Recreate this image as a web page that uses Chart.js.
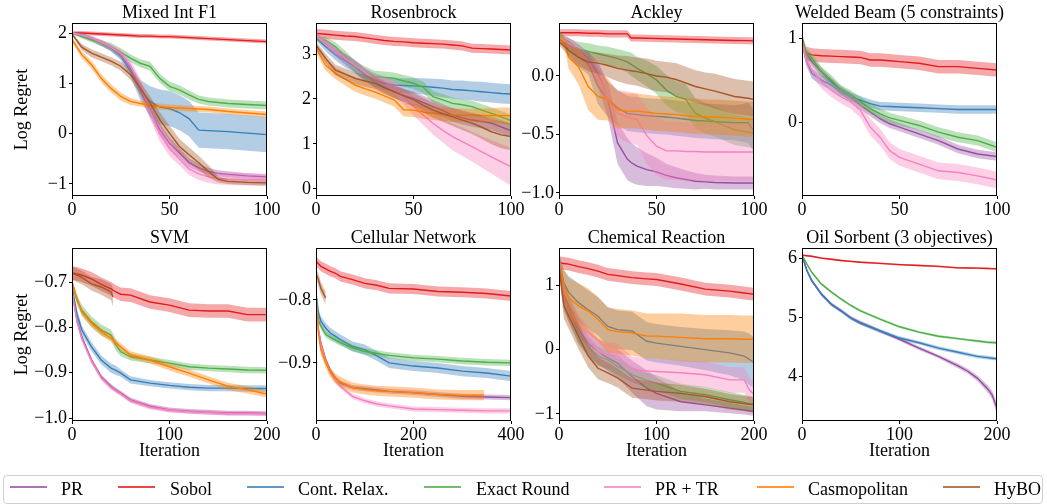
<!DOCTYPE html>
<html><head><meta charset="utf-8">
<script src="https://cdn.jsdelivr.net/npm/chart.js@4.4.0/dist/chart.umd.min.js"></script>
<style>
html,body{margin:0;padding:0;background:#fff;width:1047px;height:504px;overflow:hidden;position:relative;font-family:'Liberation Serif','Times New Roman',serif;}
#legend{position:absolute;left:3px;top:475px;width:1040px;height:29px;border:1px solid #d0d0d0;border-radius:4px;box-sizing:border-box;}
.li{position:absolute;top:486px;height:2px;width:37px;}
.lt{position:absolute;top:480px;font-size:18px;line-height:18px;color:#000;white-space:nowrap;}
</style></head><body>
<div id="legend"></div>
<script>
// ---------- series ----------
const seriesNames = ['PR','Sobol','Cont. Relax.','Exact Round','PR + TR','Casmopolitan','HyBO'];
const seriesColors = ['#984ea3','#e41a1c','#377eb8','#4daf4a','#f781bf','#ff7f00','#a65628'];

// ---------- tick labels ----------
const xTicks100 = [0,50,100];
const xTicks200 = [0,100,200];
const xTicks400 = [0,200,400];
const mixYTicks = [-1,0,1,2];
const rosYTicks = [0,1,2,3];
const ackYTicks = [-1,-0.5,0];
const welYTicks = [0,1];
const svmYTicks = [-1,-0.9,-0.8,-0.7];
const celYTicks = [-0.9,-0.8];
const cheYTicks = [-1,0,1];
const oilYTicks = [4,5,6];

// ---------- Mixed Int F1 ----------
const mixX = [0,5,10,15,20,25,30,35,40,45,50,55,60,65,70,75,80,90,100];
const mixPR = [2.0,1.95,1.88,1.8,1.7,1.57,1.3,0.87,0.44,0.08,-0.19,-0.38,-0.58,-0.68,-0.75,-0.79,-0.81,-0.84,-0.86];
const mixPRe = [0.02,0.03,0.04,0.05,0.06,0.07,0.09,0.12,0.12,0.12,0.12,0.1,0.09,0.08,0.07,0.06,0.06,0.05,0.05];
const mixSob = [2.0,2.0,1.99,1.98,1.97,1.96,1.95,1.94,1.94,1.93,1.93,1.92,1.91,1.9,1.89,1.88,1.87,1.85,1.83];
const mixSobe = [0.04,0.04,0.04,0.04,0.04,0.04,0.04,0.04,0.04,0.04,0.04,0.04,0.04,0.04,0.04,0.04,0.04,0.04,0.04];
const mixCR = [2.0,1.96,1.9,1.8,1.7,1.54,1.25,0.87,0.64,0.53,0.5,0.42,0.3,0.07,0.06,0.05,0.04,0.01,-0.02];
const mixCRe = [0.02,0.03,0.04,0.05,0.06,0.08,0.12,0.2,0.3,0.35,0.35,0.35,0.35,0.35,0.35,0.35,0.35,0.35,0.35];
const mixER = [2.0,1.93,1.86,1.8,1.73,1.62,1.5,1.4,1.34,1.1,0.94,0.87,0.77,0.68,0.64,0.62,0.6,0.58,0.56];
const mixERe = [0.03,0.04,0.05,0.06,0.07,0.08,0.08,0.08,0.09,0.09,0.09,0.09,0.09,0.08,0.08,0.08,0.08,0.08,0.08];
const mixTR = [2.0,1.96,1.9,1.82,1.72,1.6,1.35,0.95,0.45,0.0,-0.3,-0.5,-0.7,-0.8,-0.86,-0.89,-0.9,-0.91,-0.92];
const mixTRe = [0.02,0.03,0.04,0.05,0.06,0.08,0.1,0.15,0.15,0.15,0.15,0.13,0.12,0.12,0.12,0.12,0.12,0.12,0.12];
const mixCas = [1.87,1.57,1.37,1.1,0.9,0.74,0.64,0.6,0.56,0.54,0.52,0.51,0.5,0.49,0.48,0.46,0.44,0.41,0.38];
const mixCase = [0.05,0.07,0.08,0.08,0.08,0.08,0.07,0.06,0.06,0.06,0.06,0.06,0.06,0.06,0.06,0.06,0.06,0.06,0.06];
const mixHy = [1.98,1.72,1.6,1.52,1.44,1.34,1.17,0.91,0.61,0.28,0.01,-0.25,-0.42,-0.58,-0.75,-0.91,-0.95,-0.97,-0.98];
const mixHye = [0.03,0.06,0.08,0.08,0.08,0.09,0.1,0.12,0.14,0.15,0.15,0.15,0.15,0.14,0.12,0.06,0.05,0.05,0.05];

// ---------- Rosenbrock ----------
const rosX = [0,5,10,15,20,25,30,35,40,45,50,55,60,65,70,75,80,85,90,95,100];
const rosPR = [3.4,3.25,3.05,2.88,2.72,2.55,2.38,2.27,2.16,2.08,2.01,1.92,1.83,1.74,1.64,1.58,1.53,1.5,1.46,1.38,1.29];
const rosPRe = [0.05,0.08,0.1,0.12,0.13,0.13,0.13,0.13,0.14,0.14,0.15,0.15,0.15,0.15,0.15,0.15,0.15,0.15,0.15,0.15,0.15];
const rosSob = [3.46,3.44,3.42,3.4,3.39,3.36,3.33,3.3,3.28,3.27,3.25,3.24,3.23,3.22,3.2,3.18,3.13,3.12,3.11,3.1,3.09];
const rosSobe = [0.1,0.1,0.1,0.1,0.1,0.1,0.1,0.1,0.1,0.1,0.1,0.1,0.1,0.1,0.1,0.1,0.1,0.1,0.1,0.1,0.1];
const rosCR = [3.35,3.16,2.98,2.85,2.72,2.53,2.42,2.35,2.31,2.3,2.29,2.28,2.26,2.24,2.21,2.2,2.18,2.16,2.14,2.12,2.11];
const rosCRe = [0.05,0.1,0.12,0.15,0.15,0.15,0.15,0.15,0.15,0.16,0.17,0.18,0.19,0.2,0.2,0.21,0.21,0.22,0.22,0.22,0.22];
const rosER = [3.35,3.3,3.16,2.95,2.72,2.6,2.5,2.48,2.46,2.4,2.35,2.26,2.05,1.98,1.9,1.87,1.83,1.75,1.68,1.6,1.52];
const rosERe = [0.05,0.08,0.1,0.12,0.13,0.13,0.13,0.13,0.13,0.13,0.13,0.13,0.13,0.13,0.13,0.13,0.13,0.13,0.13,0.13,0.13];
const rosTR = [3.4,3.25,3.05,2.9,2.75,2.6,2.45,2.38,2.27,2.05,1.83,1.64,1.46,1.3,1.16,1.05,0.94,0.82,0.71,0.6,0.49];
const rosTRe = [0.05,0.08,0.1,0.1,0.1,0.1,0.1,0.12,0.14,0.18,0.2,0.22,0.25,0.27,0.3,0.32,0.33,0.35,0.37,0.4,0.42];
const rosCas = [3.13,2.75,2.57,2.44,2.31,2.23,2.16,2.07,1.98,1.76,1.75,1.71,1.68,1.66,1.64,1.64,1.64,1.63,1.63,1.63,1.63];
const rosCase = [0.1,0.12,0.13,0.14,0.15,0.15,0.15,0.15,0.15,0.15,0.15,0.15,0.15,0.15,0.15,0.15,0.15,0.16,0.17,0.18,0.18];
const rosHy = [3.2,2.9,2.64,2.55,2.46,2.4,2.35,2.25,2.16,2.07,1.98,1.86,1.75,1.67,1.6,1.53,1.46,1.37,1.27,1.2,1.16];
const rosHye = [0.08,0.1,0.12,0.13,0.13,0.13,0.13,0.14,0.14,0.15,0.15,0.16,0.17,0.18,0.2,0.22,0.24,0.26,0.28,0.3,0.3];

// ---------- Ackley ----------
const ackX = [0,3,5,10,15,20,25,30,35,37,40,45,50,55,60,65,70,75,80,90,97,100];
const ackPR = [0.35,0.31,0.29,0.22,0.15,0.02,-0.2,-0.57,-0.71,-0.74,-0.77,-0.8,-0.82,-0.85,-0.87,-0.885,-0.9,-0.905,-0.91,-0.915,-0.915,-0.915];
const ackPRe = [0.02,0.03,0.04,0.05,0.06,0.1,0.15,0.18,0.18,0.17,0.16,0.14,0.12,0.1,0.09,0.08,0.07,0.06,0.06,0.055,0.055,0.055];
const ackSob = [0.37,0.37,0.37,0.37,0.365,0.365,0.36,0.36,0.36,0.325,0.325,0.322,0.32,0.318,0.316,0.314,0.312,0.31,0.308,0.304,0.302,0.3];
const ackSobe = [0.03,0.03,0.03,0.03,0.03,0.03,0.03,0.03,0.03,0.03,0.03,0.03,0.03,0.03,0.03,0.03,0.03,0.03,0.03,0.03,0.03,0.03];
const ackCR = [0.33,0.27,0.22,0.16,0.11,-0.09,-0.2,-0.27,-0.32,-0.325,-0.33,-0.34,-0.345,-0.35,-0.36,-0.37,-0.38,-0.385,-0.39,-0.4,-0.4,-0.47];
const ackCRe = [0.03,0.04,0.05,0.08,0.1,0.15,0.15,0.15,0.15,0.15,0.15,0.15,0.15,0.15,0.15,0.15,0.15,0.15,0.15,0.15,0.17,0.18];
const ackER = [0.36,0.3,0.27,0.23,0.21,0.19,0.17,0.15,0.12,0.1,0.065,0.02,-0.034,-0.12,-0.175,-0.2,-0.32,-0.36,-0.39,-0.46,-0.48,-0.49];
const ackERe = [0.03,0.04,0.05,0.06,0.07,0.07,0.08,0.08,0.09,0.1,0.1,0.11,0.12,0.13,0.13,0.13,0.13,0.13,0.13,0.13,0.13,0.13];
const ackTR = [0.33,0.3,0.28,0.22,0.12,-0.005,-0.2,-0.32,-0.35,-0.36,-0.37,-0.51,-0.6,-0.64,-0.64,-0.645,-0.645,-0.65,-0.65,-0.65,-0.65,-0.65];
const ackTRe = [0.02,0.03,0.04,0.05,0.07,0.1,0.15,0.2,0.22,0.22,0.22,0.24,0.25,0.25,0.25,0.25,0.25,0.25,0.25,0.25,0.25,0.25];
const ackCas = [0.32,0.28,0.16,0.08,-0.09,-0.175,-0.2,-0.29,-0.3,-0.3,-0.3,-0.31,-0.32,-0.325,-0.33,-0.34,-0.345,-0.35,-0.35,-0.36,-0.37,-0.37];
const ackCase = [0.03,0.05,0.1,0.15,0.2,0.2,0.18,0.16,0.15,0.15,0.15,0.15,0.15,0.15,0.15,0.15,0.15,0.15,0.15,0.15,0.15,0.15];
const ackHy = [0.29,0.25,0.22,0.16,0.12,0.11,0.09,0.065,0.05,0.045,0.037,0.02,0.0,-0.01,-0.03,-0.06,-0.09,-0.11,-0.13,-0.175,-0.19,-0.2];
const ackHye = [0.03,0.04,0.05,0.07,0.08,0.09,0.1,0.11,0.12,0.12,0.12,0.13,0.13,0.13,0.14,0.14,0.14,0.14,0.15,0.15,0.15,0.15];

// ---------- Welded Beam ----------
const welX = [0,2,5,10,15,20,25,30,35,40,45,50,60,70,80,90,100];
const welPR = [0.98,0.82,0.72,0.6,0.48,0.38,0.3,0.2,0.12,0.04,-0.02,-0.06,-0.14,-0.22,-0.32,-0.38,-0.41];
const welPRe = [0.05,0.05,0.05,0.05,0.05,0.05,0.05,0.05,0.05,0.05,0.05,0.05,0.05,0.05,0.05,0.05,0.05];
const welSob = [1.0,0.82,0.8,0.79,0.785,0.78,0.775,0.77,0.74,0.74,0.73,0.72,0.7,0.66,0.66,0.64,0.62];
const welSobe = [0.06,0.08,0.08,0.08,0.08,0.08,0.08,0.08,0.08,0.08,0.08,0.08,0.08,0.08,0.08,0.08,0.08];
const welCR = [0.95,0.75,0.58,0.5,0.44,0.36,0.3,0.26,0.22,0.19,0.185,0.18,0.17,0.16,0.15,0.15,0.15];
const welCRe = [0.05,0.06,0.06,0.06,0.06,0.05,0.05,0.05,0.05,0.05,0.05,0.05,0.05,0.05,0.05,0.05,0.05];
const welER = [1.0,0.82,0.76,0.6,0.5,0.38,0.32,0.24,0.16,0.1,0.05,0.02,-0.04,-0.12,-0.18,-0.22,-0.3];
const welERe = [0.05,0.06,0.06,0.06,0.06,0.06,0.06,0.06,0.06,0.06,0.06,0.06,0.06,0.06,0.06,0.06,0.06];
const welTR = [0.95,0.75,0.62,0.48,0.38,0.3,0.24,0.14,-0.06,-0.18,-0.34,-0.42,-0.5,-0.58,-0.6,-0.64,-0.69];
const welTRe = [0.06,0.08,0.08,0.08,0.08,0.08,0.08,0.09,0.1,0.1,0.1,0.1,0.1,0.1,0.1,0.1,0.1];

// ---------- SVM ----------
const svmX = [0,5,10,20,30,40,45,50,60,80,100,120,140,160,180,200];
const svmPR = [-0.72,-0.784,-0.821,-0.872,-0.909,-0.93,-0.938,-0.945,-0.96,-0.974,-0.982,-0.985,-0.987,-0.989,-0.989,-0.99];
const svmPRe = [0.005,0.005,0.005,0.005,0.005,0.005,0.005,0.005,0.005,0.005,0.005,0.005,0.005,0.005,0.005,0.005];
const svmSob = [-0.68,-0.682,-0.685,-0.693,-0.705,-0.715,-0.722,-0.727,-0.729,-0.744,-0.751,-0.762,-0.764,-0.764,-0.772,-0.772];
const svmSobe = [0.015,0.015,0.015,0.015,0.015,0.015,0.015,0.015,0.015,0.015,0.015,0.015,0.015,0.015,0.015,0.015];
const svmCR = [-0.71,-0.77,-0.806,-0.843,-0.872,-0.89,-0.895,-0.901,-0.916,-0.923,-0.928,-0.932,-0.934,-0.934,-0.935,-0.935];
const svmCRe = [0.005,0.01,0.01,0.01,0.01,0.01,0.01,0.008,0.008,0.007,0.007,0.007,0.007,0.007,0.007,0.007];
const svmER = [-0.7,-0.74,-0.762,-0.788,-0.806,-0.817,-0.839,-0.854,-0.865,-0.872,-0.879,-0.887,-0.89,-0.892,-0.894,-0.895];
const svmERe = [0.005,0.01,0.012,0.012,0.012,0.012,0.012,0.01,0.008,0.007,0.007,0.007,0.007,0.007,0.007,0.007];
const svmTR = [-0.72,-0.787,-0.825,-0.875,-0.912,-0.933,-0.94,-0.947,-0.962,-0.976,-0.983,-0.986,-0.988,-0.99,-0.99,-0.991];
const svmTRe = [0.005,0.005,0.005,0.005,0.005,0.005,0.005,0.005,0.005,0.005,0.005,0.005,0.005,0.005,0.005,0.005];
const svmCas = [-0.7,-0.735,-0.766,-0.791,-0.81,-0.824,-0.834,-0.843,-0.861,-0.872,-0.887,-0.901,-0.916,-0.93,-0.938,-0.947];
const svmCase = [0.005,0.008,0.008,0.008,0.008,0.008,0.008,0.008,0.008,0.008,0.008,0.008,0.008,0.008,0.008,0.008];
const svmHyX = [0,10,20,30,40,42];
const svmHy = [-0.68,-0.69,-0.704,-0.711,-0.722,-0.733];
const svmHye = [0.015,0.015,0.015,0.017,0.018,0.02];

// ---------- Cellular Network ----------
const celX = [0,5,10,20,30,40,50,75,100,125,150,200,250,300,350,400];
const celPR = [-0.8,-0.847,-0.868,-0.895,-0.913,-0.924,-0.932,-0.939,-0.941,-0.943,-0.945,-0.947,-0.95,-0.953,-0.954,-0.955];
const celPRe = [0.004,0.004,0.004,0.004,0.004,0.004,0.004,0.004,0.004,0.004,0.004,0.004,0.004,0.004,0.004,0.004];
const celSob = [-0.739,-0.743,-0.747,-0.751,-0.755,-0.758,-0.763,-0.768,-0.774,-0.777,-0.782,-0.783,-0.787,-0.788,-0.79,-0.794];
const celSobe = [0.008,0.008,0.008,0.008,0.008,0.008,0.008,0.008,0.008,0.008,0.008,0.008,0.008,0.008,0.008,0.008];
const celCR = [-0.79,-0.821,-0.834,-0.845,-0.853,-0.858,-0.863,-0.874,-0.879,-0.889,-0.9,-0.905,-0.908,-0.913,-0.916,-0.921];
const celCRe = [0.008,0.008,0.008,0.008,0.008,0.008,0.008,0.008,0.008,0.008,0.008,0.008,0.008,0.008,0.008,0.008];
const celER = [-0.79,-0.832,-0.842,-0.855,-0.86,-0.864,-0.868,-0.876,-0.882,-0.885,-0.888,-0.892,-0.894,-0.897,-0.899,-0.9];
const celERe = [0.005,0.005,0.005,0.005,0.005,0.005,0.005,0.005,0.005,0.005,0.005,0.005,0.005,0.005,0.005,0.005];
const celTR = [-0.8,-0.847,-0.871,-0.897,-0.916,-0.928,-0.937,-0.953,-0.96,-0.965,-0.968,-0.973,-0.974,-0.975,-0.976,-0.976];
const celTRe = [0.004,0.004,0.004,0.004,0.004,0.004,0.004,0.004,0.004,0.004,0.004,0.004,0.004,0.004,0.004,0.004];
const celCasX = [0,5,10,20,30,40,50,75,100,125,150,200,250,300,345];
const celCas = [-0.8,-0.853,-0.879,-0.9,-0.916,-0.925,-0.93,-0.939,-0.942,-0.944,-0.945,-0.947,-0.95,-0.951,-0.951];
const celCase = [0.005,0.008,0.008,0.008,0.008,0.008,0.008,0.008,0.008,0.008,0.008,0.008,0.008,0.008,0.008];
const celHyX = [0,5,10,20];
const celHy = [-0.759,-0.768,-0.782,-0.797];
const celHye = [0.008,0.01,0.01,0.01];

// ---------- Chemical Reaction ----------
const cheX = [0,5,10,20,30,40,50,60,75,90,100,125,150,175,190,195,200];
const chePR = [1.35,0.85,0.65,0.31,0.1,-0.03,-0.13,-0.21,-0.42,-0.6,-0.68,-0.81,-0.86,-0.91,-0.94,-0.95,-0.96];
const chePRe = [0.1,0.2,0.2,0.2,0.2,0.2,0.2,0.22,0.25,0.28,0.25,0.15,0.1,0.08,0.07,0.07,0.07];
const cheSob = [1.35,1.34,1.33,1.29,1.26,1.22,1.17,1.15,1.12,1.1,1.09,1.02,0.94,0.91,0.88,0.87,0.86];
const cheSobe = [0.1,0.1,0.1,0.1,0.1,0.1,0.1,0.1,0.1,0.1,0.1,0.1,0.1,0.1,0.1,0.1,0.1];
const cheCR = [1.4,1.04,0.89,0.73,0.62,0.52,0.36,0.31,0.29,0.13,0.1,0.05,0.0,-0.05,-0.1,-0.15,-0.2];
const cheCRe = [0.1,0.2,0.25,0.3,0.3,0.3,0.3,0.3,0.3,0.3,0.3,0.3,0.32,0.35,0.38,0.4,0.4];
const cheER = [1.3,0.8,0.62,0.26,0.05,-0.1,-0.16,-0.26,-0.39,-0.48,-0.52,-0.65,-0.7,-0.78,-0.82,-0.84,-0.85];
const cheERe = [0.1,0.2,0.2,0.18,0.16,0.15,0.14,0.13,0.12,0.12,0.12,0.12,0.12,0.12,0.12,0.12,0.12];
const cheTR = [1.4,0.83,0.62,0.36,0.16,-0.03,-0.08,-0.1,-0.31,-0.33,-0.34,-0.36,-0.39,-0.47,-0.47,-0.62,-0.7];
const cheTRe = [0.1,0.2,0.2,0.2,0.2,0.2,0.2,0.2,0.2,0.2,0.2,0.2,0.2,0.2,0.2,0.2,0.2];
const cheCas = [1.35,0.99,0.81,0.68,0.6,0.47,0.31,0.28,0.26,0.21,0.21,0.19,0.17,0.17,0.16,0.16,0.16];
const cheCase = [0.1,0.25,0.3,0.35,0.35,0.35,0.35,0.35,0.35,0.35,0.35,0.37,0.37,0.37,0.37,0.37,0.37];
const cheHy = [1.3,0.68,0.52,0.21,-0.1,-0.29,-0.36,-0.44,-0.6,-0.63,-0.65,-0.68,-0.73,-0.81,-0.84,-0.85,-0.86];
const cheHye = [0.1,0.2,0.2,0.2,0.18,0.17,0.16,0.15,0.15,0.14,0.14,0.13,0.12,0.12,0.12,0.12,0.12];

// ---------- Oil Sorbent ----------
const oilX = [0,5,10,20,30,40,50,60,80,100,120,140,160,170,180,190,195,200];
const oilPR = [6.05,5.79,5.62,5.39,5.22,5.11,4.99,4.91,4.77,4.63,4.48,4.34,4.18,4.09,3.97,3.8,3.69,3.46];
const oilPRe = [0.02,0.03,0.03,0.03,0.03,0.03,0.03,0.03,0.03,0.03,0.03,0.03,0.04,0.04,0.05,0.06,0.07,0.1];
const oilSob = [6.05,6.04,6.03,6.0,5.98,5.96,5.945,5.93,5.91,5.89,5.875,5.86,5.835,5.833,5.83,5.825,5.822,5.82];
const oilSobe = [0.015,0.015,0.015,0.015,0.015,0.015,0.015,0.015,0.015,0.015,0.015,0.015,0.015,0.015,0.015,0.015,0.015,0.015];
const oilCR = [6.05,5.79,5.62,5.39,5.22,5.11,4.99,4.9,4.77,4.65,4.57,4.48,4.41,4.375,4.34,4.32,4.31,4.3];
const oilCRe = [0.03,0.03,0.03,0.03,0.03,0.03,0.03,0.03,0.03,0.03,0.03,0.03,0.03,0.03,0.03,0.03,0.03,0.03];
const oilER = [6.05,5.9,5.76,5.56,5.43,5.31,5.2,5.11,4.97,4.84,4.75,4.68,4.64,4.62,4.6,4.58,4.575,4.57];
const oilERe = [0.02,0.02,0.02,0.02,0.02,0.02,0.02,0.02,0.02,0.02,0.02,0.02,0.02,0.02,0.02,0.02,0.02,0.02];

// ---------- panel definitions ----------
const panels = [
  {title:'Mixed Int F1', col:0, row:0, xMax:100, xTicks:xTicks100, yMin:-1.24, yMax:2.2, yTicks:mixYTicks, dec:0,
   series:[[0,mixX,mixPR,mixPRe],[1,mixX,mixSob,mixSobe],[2,mixX,mixCR,mixCRe],[3,mixX,mixER,mixERe],[4,mixX,mixTR,mixTRe],[5,mixX,mixCas,mixCase],[6,mixX,mixHy,mixHye]]},
  {title:'Rosenbrock', col:1, row:0, xMax:100, xTicks:xTicks100, yMin:-0.16, yMax:3.69, yTicks:rosYTicks, dec:0,
   series:[[0,rosX,rosPR,rosPRe],[1,rosX,rosSob,rosSobe],[2,rosX,rosCR,rosCRe],[3,rosX,rosER,rosERe],[4,rosX,rosTR,rosTRe],[5,rosX,rosCas,rosCase],[6,rosX,rosHy,rosHye]]},
  {title:'Ackley', col:2, row:0, xMax:100, xTicks:xTicks100, yMin:-1.026, yMax:0.453, yTicks:ackYTicks, dec:1,
   series:[[0,ackX,ackPR,ackPRe],[1,ackX,ackSob,ackSobe],[2,ackX,ackCR,ackCRe],[3,ackX,ackER,ackERe],[4,ackX,ackTR,ackTRe],[5,ackX,ackCas,ackCase],[6,ackX,ackHy,ackHye]]},
  {title:'Welded Beam (5 constraints)', col:3, row:0, xMax:100, xTicks:xTicks100, yMin:-0.88, yMax:1.18, yTicks:welYTicks, dec:0,
   series:[[0,welX,welPR,welPRe],[1,welX,welSob,welSobe],[2,welX,welCR,welCRe],[3,welX,welER,welERe],[4,welX,welTR,welTRe]]},
  {title:'SVM', col:0, row:1, xMax:200, xTicks:xTicks200, yMin:-1.0066, yMax:-0.625, yTicks:svmYTicks, dec:1,
   series:[[0,svmX,svmPR,svmPRe],[1,svmX,svmSob,svmSobe],[2,svmX,svmCR,svmCRe],[3,svmX,svmER,svmERe],[4,svmX,svmTR,svmTRe],[5,svmX,svmCas,svmCase],[6,svmHyX,svmHy,svmHye]]},
  {title:'Cellular Network', col:1, row:1, xMax:400, xTicks:xTicks400, yMin:-0.992, yMax:-0.718, yTicks:celYTicks, dec:1,
   series:[[0,celX,celPR,celPRe],[1,celX,celSob,celSobe],[2,celX,celCR,celCRe],[3,celX,celER,celERe],[4,celX,celTR,celTRe],[5,celCasX,celCas,celCase],[6,celHyX,celHy,celHye]]},
  {title:'Chemical Reaction', col:2, row:1, xMax:200, xTicks:xTicks200, yMin:-1.11, yMax:1.58, yTicks:cheYTicks, dec:0,
   series:[[0,cheX,chePR,chePRe],[1,cheX,cheSob,cheSobe],[2,cheX,cheCR,cheCRe],[3,cheX,cheER,cheERe],[4,cheX,cheTR,cheTRe],[5,cheX,cheCas,cheCase],[6,cheX,cheHy,cheHye]]},
  {title:'Oil Sorbent (3 objectives)', col:3, row:1, xMax:200, xTicks:xTicks200, yMin:3.25, yMax:6.17, yTicks:oilYTicks, dec:0,
   series:[[0,oilX,oilPR,oilPRe],[1,oilX,oilSob,oilSobe],[2,oilX,oilCR,oilCRe],[3,oilX,oilER,oilERe]]}
];

// ---------- layout ----------
const FONT = "'Liberation Serif','Times New Roman',serif";
const colLeft = [72,316,559,802];
const plotW = 195;
const titleSpace = 23;
const rowLayout = [{top:0, plotBottom:196, xh:30, xlabel:false},{top:225, plotBottom:421, xh:40, xlabel:true}];
const padRight = 16;

function rgba(hex,a){const n=parseInt(hex.slice(1),16);return 'rgba('+((n>>16)&255)+','+((n>>8)&255)+','+(n&255)+','+a+')';}
function fmt(v,d){const s=d?Number(v).toFixed(d):String(Math.round(v));return s.replace('-','\u2212');}

const framePlugin = {id:'frame', afterDatasetsDraw(c){
  const a=c.chartArea, ctx=c.ctx; const L=Math.round(a.left),T=Math.round(a.top),R=Math.round(a.right),B=Math.round(a.bottom);
  ctx.save(); ctx.strokeStyle='#000'; ctx.lineWidth=1; ctx.strokeRect(L+0.5,T+0.5,R-L-1,B-T-1); ctx.restore();
}};
const panelTitlePlugin = {id:'panelTitle', afterDraw(c, args, opts){
  const a=c.chartArea, ctx=c.ctx;
  ctx.save(); ctx.font='18px '+FONT; ctx.fillStyle='#000'; ctx.textAlign='center'; ctx.textBaseline='middle';
  ctx.fillText(opts.text,(a.left+a.right)/2,a.top-10); ctx.restore();
}};

panels.forEach(p=>{
  const rl = rowLayout[p.row];
  const yw = p.col===0 ? 72 : 50;
  const cw = yw + plotW + padRight;
  const ch = rl.plotBottom + rl.xh - rl.top;
  const cv = document.createElement('canvas');
  cv.width = cw; cv.height = ch;
  cv.style.cssText = 'position:absolute;left:'+(colLeft[p.col]-yw)+'px;top:'+rl.top+'px;width:'+cw+'px;height:'+ch+'px;';
  document.body.appendChild(cv);

  const datasets = [];
  const ordered = p.series.slice().sort((a,b)=>b[0]-a[0]);
  ordered.forEach(([si,xs,m,e])=>{
    const col = seriesColors[si];
    datasets.push({label:seriesNames[si], data:xs.map((x,i)=>({x:x,y:m[i]})), borderColor:col, borderWidth:1.4, pointRadius:0, fill:false, tension:0});
    datasets.push({label:seriesNames[si]+' hi', data:xs.map((x,i)=>({x:x,y:m[i]+e[i]})), borderColor:'rgba(0,0,0,0)', borderWidth:0, pointRadius:0, fill:'+1', backgroundColor:rgba(col,0.38), tension:0});
    datasets.push({label:seriesNames[si]+' lo', data:xs.map((x,i)=>({x:x,y:m[i]-e[i]})), borderColor:'rgba(0,0,0,0)', borderWidth:0, pointRadius:0, fill:false, tension:0});
  });

  const tickFont = {family:FONT, size:18, lineHeight:1};
  new Chart(cv, {
    type:'line',
    data:{datasets:datasets},
    plugins:[framePlugin, panelTitlePlugin],
    options:{
      responsive:false, animation:false, devicePixelRatio:1,
      layout:{padding:{left:0,right:padRight,top:titleSpace,bottom:0}},
      plugins:{
        legend:{display:false}, tooltip:{enabled:false}, title:{display:false},
        panelTitle:{text:p.title}
      },
      scales:{
        x:{type:'linear', min:0, max:p.xMax,
           afterBuildTicks:s=>{s.ticks=p.xTicks.map(v=>({value:v}));},
           afterFit:s=>{s.height=rl.xh;},
           grid:{drawOnChartArea:false, drawTicks:true, tickLength:3, color:'#000'},
           border:{display:false},
           ticks:{color:'#000', font:tickFont, padding:2, maxRotation:0, autoSkip:false, callback:v=>fmt(v,0)},
           title:{display:rl.xlabel, text:'Iteration', color:'#000', font:{family:FONT,size:18,lineHeight:1}, padding:{top:0,bottom:1}}
        },
        y:{type:'linear', min:p.yMin, max:p.yMax,
           afterBuildTicks:s=>{s.ticks=p.yTicks.map(v=>({value:v}));},
           afterFit:s=>{s.width=yw;},
           grid:{drawOnChartArea:false, drawTicks:true, tickLength:3, color:'#000'},
           border:{display:false},
           ticks:{color:'#000', font:tickFont, padding:2, autoSkip:false, callback:v=>fmt(v,p.dec)},
           title:{display:p.col===0, text:'Log Regret', color:'#000', font:{family:FONT,size:18,lineHeight:1}, padding:{top:13,bottom:0}}
        }
      }
    }
  });
});

// ---------- legend ----------
const legendLine = [10,118,247,424,604,757,943];
const legendText = [61,170,298,476,655,808,994];
seriesNames.forEach((n,i)=>{
  const l=document.createElement('div'); l.className='li'; l.style.left=legendLine[i]+'px'; l.style.background=rgba(seriesColors[i],0.8); document.body.appendChild(l);
  const t=document.createElement('div'); t.className='lt'; t.style.left=legendText[i]+'px'; t.textContent=n; document.body.appendChild(t);
});
</script>
</body></html>
